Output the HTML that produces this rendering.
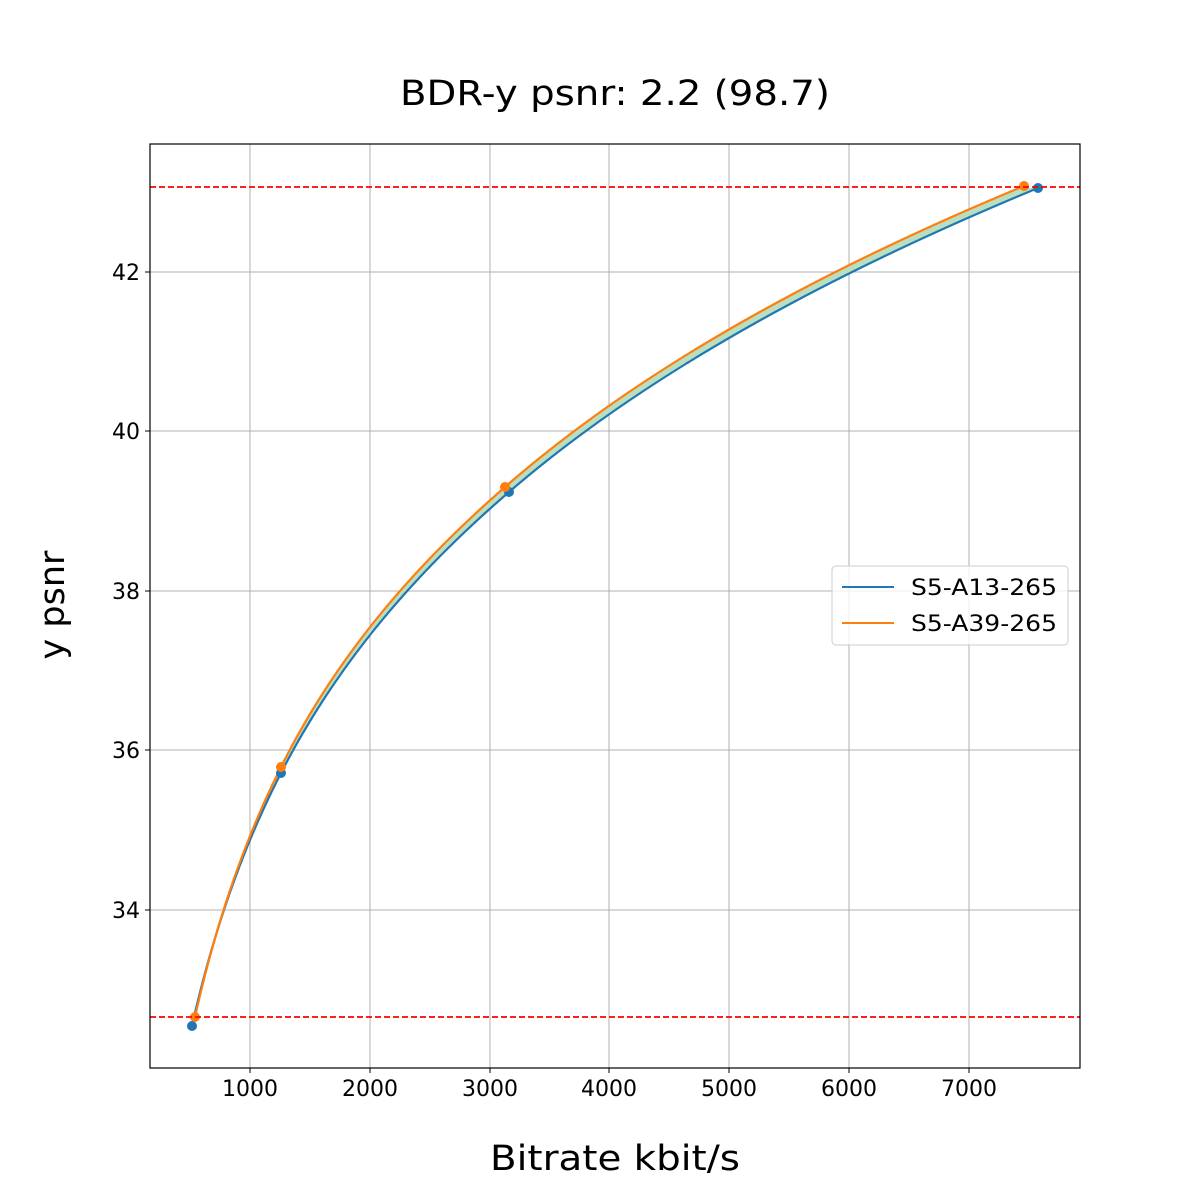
<!DOCTYPE html>
<html><head><meta charset="utf-8"><style>
body{margin:0;background:#fff;}
svg{display:block;font-family:"DejaVu Sans","Liberation Sans",sans-serif;}
</style></head><body>
<svg id="s" width="1200" height="1200" xmlns="http://www.w3.org/2000/svg">
<rect width="1200" height="1200" fill="#fff"/>
<text x="615" y="105" font-size="35" text-anchor="middle" textLength="430" lengthAdjust="spacingAndGlyphs">BDR-y psnr: 2.2 (98.7)</text>
<g stroke="#b0b0b0" stroke-width="1">
<line x1="250" y1="144" x2="250" y2="1068"/><line x1="370" y1="144" x2="370" y2="1068"/>
<line x1="490" y1="144" x2="490" y2="1068"/><line x1="609" y1="144" x2="609" y2="1068"/>
<line x1="729" y1="144" x2="729" y2="1068"/><line x1="849" y1="144" x2="849" y2="1068"/>
<line x1="969" y1="144" x2="969" y2="1068"/>
<line x1="150" y1="272" x2="1080" y2="272"/><line x1="150" y1="431" x2="1080" y2="431"/>
<line x1="150" y1="591" x2="1080" y2="591"/><line x1="150" y1="750" x2="1080" y2="750"/>
<line x1="150" y1="910" x2="1080" y2="910"/>
</g>
<g id="curves"></g>
<g stroke="#ff0000" stroke-width="1.7" stroke-dasharray="6,3">
<line x1="150" y1="187" x2="1080" y2="187"/><line x1="150" y1="1017" x2="1080" y2="1017"/>
</g>
<rect x="150" y="144" width="930" height="924" fill="none" stroke="#000" stroke-width="1.2"/>
<g font-size="22" text-anchor="middle">
<text x="250" y="1096">1000</text><text x="370" y="1096">2000</text><text x="490" y="1096">3000</text>
<text x="609" y="1096">4000</text><text x="729" y="1096">5000</text><text x="849" y="1096">6000</text>
<text x="969" y="1096">7000</text>
</g>
<g font-size="22" text-anchor="end">
<text x="140" y="280">42</text><text x="140" y="439">40</text><text x="140" y="599">38</text>
<text x="140" y="758">36</text><text x="140" y="918">34</text>
</g>
<g stroke="#000" stroke-width="1">
<line x1="250" y1="1068" x2="250" y2="1073"/><line x1="370" y1="1068" x2="370" y2="1073"/>
<line x1="490" y1="1068" x2="490" y2="1073"/><line x1="609" y1="1068" x2="609" y2="1073"/>
<line x1="729" y1="1068" x2="729" y2="1073"/><line x1="849" y1="1068" x2="849" y2="1073"/>
<line x1="969" y1="1068" x2="969" y2="1073"/>
<line x1="145" y1="272" x2="150" y2="272"/><line x1="145" y1="431" x2="150" y2="431"/>
<line x1="145" y1="591" x2="150" y2="591"/><line x1="145" y1="750" x2="150" y2="750"/>
<line x1="145" y1="910" x2="150" y2="910"/>
</g>
<text x="615" y="1170" font-size="35" text-anchor="middle" textLength="250" lengthAdjust="spacingAndGlyphs">Bitrate kbit/s</text>
<text transform="translate(64,605) rotate(-90)" font-size="35" text-anchor="middle">y psnr</text>
<rect x="832" y="566" width="236" height="79" rx="4" fill="#fff" fill-opacity="0.8" stroke="#ccc"/>
<line x1="842" y1="587" x2="894" y2="587" stroke="#1f77b4" stroke-width="2"/>
<line x1="842" y1="623" x2="894" y2="623" stroke="#ff7f0e" stroke-width="2"/>
<text x="911" y="595" font-size="22" textLength="146" lengthAdjust="spacingAndGlyphs">S5-A13-265</text>
<text x="911" y="631" font-size="22" textLength="146" lengthAdjust="spacingAndGlyphs">S5-A39-265</text>
</svg>
<script>
function r(px){return 1000+(px-250)/0.11983;}
function px(rate){return 250+(rate-1000)*0.11983;}
var B=[[192,1026],[281,773],[509,492],[1038,188]];
var O=[[195,1017],[281,767],[505,487],[1024,186]];
function pchip(xs,ys){var n=xs.length,h=[],d=[],m=[];
for(var i=0;i<n-1;i++){h[i]=xs[i+1]-xs[i];d[i]=(ys[i+1]-ys[i])/h[i];}
for(var i=1;i<n-1;i++){if(d[i-1]*d[i]<=0)m[i]=0;else{var w1=2*h[i]+h[i-1],w2=h[i]+2*h[i-1];m[i]=(w1+w2)/(w1/d[i-1]+w2/d[i]);}}
function e(h0,h1,d0,d1){var v=((2*h0+h1)*d0-h0*d1)/(h0+h1);if(v*d0<=0)v=0;else if(d0*d1<=0&&Math.abs(v)>Math.abs(3*d0))v=3*d0;return v;}
m[0]=e(h[0],h[1],d[0],d[1]);m[n-1]=e(h[n-2],h[n-3],d[n-2],d[n-3]);
return function(x){var i=0;while(i<n-2&&x>xs[i+1])i++;var t=(x-xs[i])/h[i],t2=t*t,t3=t2*t;
return (2*t3-3*t2+1)*ys[i]+(t3-2*t2+t)*h[i]*m[i]+(-2*t3+3*t2)*ys[i+1]+(t3-t2)*h[i]*m[i+1];};}
function mk(P){var xs=[],ys=[];for(var i=0;i<4;i++){xs.push(-P[i][1]);ys.push(Math.log(r(P[i][0])));}return pchip(xs,ys);}
var fb=mk(B),fo=mk(O);
var ytop=188,ybot=1017;
var pb=[],po=[];
for(var y=ybot;y>=ytop;y-=1){pb.push([px(Math.exp(fb(-y))),y]);po.push([px(Math.exp(fo(-y))),y]);}
function s(a){return a.map(function(p){return p[0].toFixed(1)+","+p[1];}).join(" ");}
var g=document.getElementById('curves'),ns="http://www.w3.org/2000/svg";
function add(t,at){var e=document.createElementNS(ns,t);for(var k in at)e.setAttribute(k,at[k]);g.appendChild(e);}
add('polygon',{points:s(pb)+" "+s(po.slice().reverse()),fill:"#b9dfc0"});
add('polyline',{points:s(pb),fill:"none",stroke:"#1f77b4","stroke-width":2.2});
add('polyline',{points:s(po),fill:"none",stroke:"#ff7f0e","stroke-width":2.2});
B.forEach(function(p){add('circle',{cx:p[0],cy:p[1],r:5,fill:"#1f77b4"});});
O.forEach(function(p){add('circle',{cx:p[0],cy:p[1],r:5,fill:"#ff7f0e"});});
</script>
</body></html>
